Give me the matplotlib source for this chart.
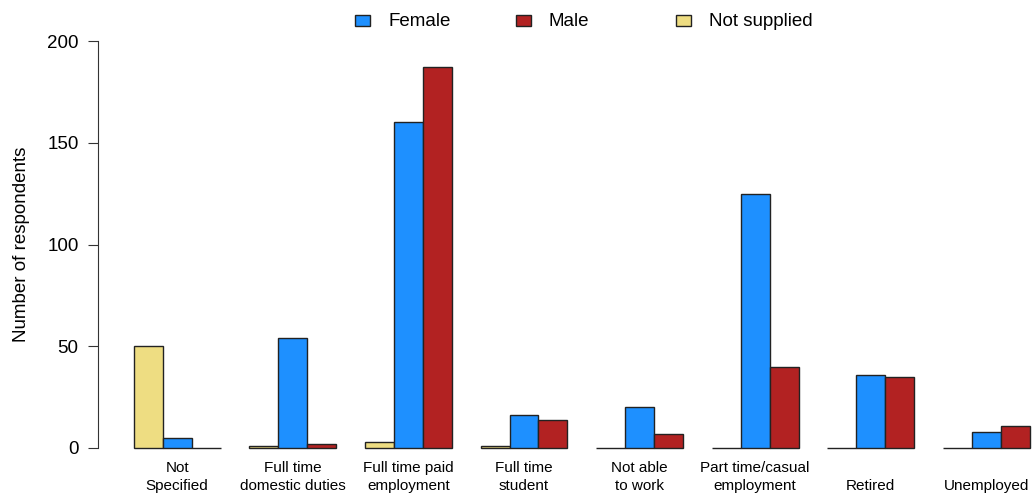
import numpy as np
import matplotlib.pyplot as plt
from matplotlib.patches import Rectangle

plt.rcParams['font.family'] = ['Liberation Sans', 'DejaVu Sans']

categories = ["Not\nSpecified", "Full time\ndomestic duties", "Full time paid\nemployment",
              "Full time\nstudent", "Not able\nto work", "Part time/casual\nemployment",
              "Retired", "Unemployed"]
not_supplied = [50, 1, 3, 1, 0, 0, 0, 0]
female = [5, 54, 160, 16, 20, 125, 36, 8]
male = [0, 2, 187, 14, 7, 40, 35, 11]

series = [("Not supplied", not_supplied, "#EEDD82"),
          ("Female", female, "#1E90FF"),
          ("Male", male, "#B22222")]

W, H = 1032, 493
fig = plt.figure(figsize=(W / 100, H / 100), dpi=100)
ax = fig.add_axes([98 / W, 1 - 448 / H, 1 - 98 / W, (448 - 41) / H])

# R style barplot, beside=TRUE, space=c(0,1)
n = len(categories)
starts = 1 + 4 * np.arange(n)
for i, (name, vals, col) in enumerate(series):
    ax.bar(starts + i, vals, width=1, align='edge', color=col,
           edgecolor='#222222', linewidth=1, clip_on=False)

ax.set_xlim(-0.24, -0.24 + (W - 98) / 28.9)
ax.set_ylim(0, 200)
centers = starts + 1.5
for c, lab in zip(centers, categories):
    # single-line labels sit on the second line, as in R's mtext
    if "\n" not in lab:
        lab = "\n" + lab
    ax.text(c, -6.5, lab, ha='center', va='top', fontsize=11, linespacing=1.35)

for s in ['top', 'right', 'bottom']:
    ax.spines[s].set_visible(False)
ax.spines['left'].set_color('#333333')
ax.set_xticks([])
ax.set_yticks([0, 50, 100, 150, 200])
ax.tick_params(axis='y', length=7, labelsize=13.5, pad=7, color='#333333')
ax.set_ylabel("Number of respondents", fontsize=13.5, labelpad=12)

# legend drawn in figure pixels, like R's horizontal legend
legend_order = [series[1], series[2], series[0]]
box_x = [355, 516, 676]
for (nm, _, col), bx in zip(legend_order, box_x):
    fig.patches.append(Rectangle((bx / W, (H - 26) / H), 15 / W, 11 / H,
                                 transform=fig.transFigure, facecolor=col,
                                 edgecolor='#222222', linewidth=1))
    fig.text((bx + 33) / W, (H - 21) / H, nm, ha='left', va='center', fontsize=13.5)

plt.savefig("out.png", dpi=100)
